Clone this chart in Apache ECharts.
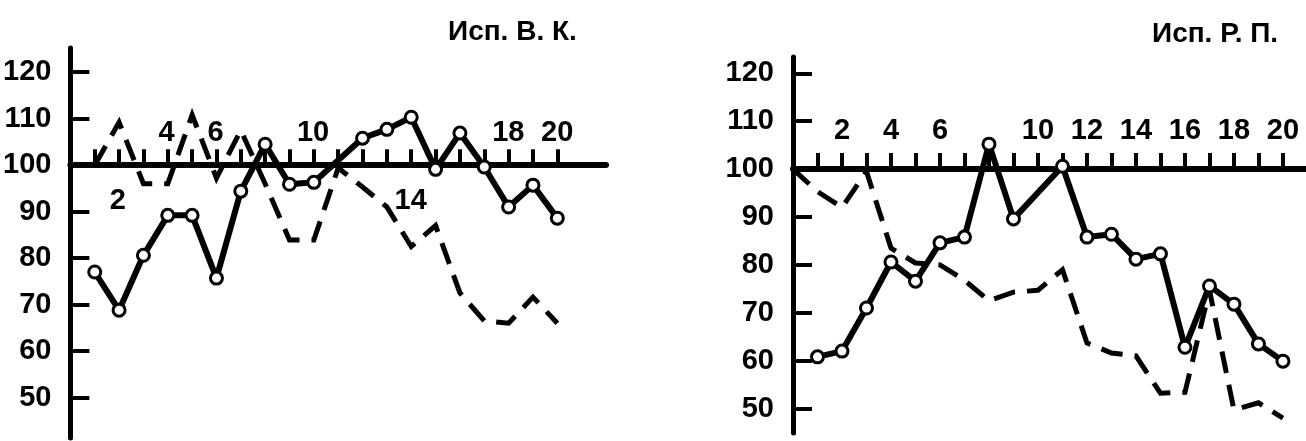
<!DOCTYPE html>
<html><head><meta charset="utf-8">
<script src="https://cdn.jsdelivr.net/npm/echarts@6/dist/echarts.min.js"></script>
<style>html,body{margin:0;padding:0;background:#fff}#c{width:1306px;height:441px}</style>
</head><body><div id="c"></div>
<script>
// Trial numbers (x) and test results (% of baseline, y)
const trials = [1,2,3,4,5,6,7,8,9,10,11,12,13,14,15,16,17,18,19,20];
const trialsFromZero = [0,1,2,3,4,5,6,7,8,9,10,11,12,13,14,15,16,17,18,19,20];

// Left panel: "Исп. В. К."
const vkSolid  = [77, 68.8, 80.6, 89.2, 89.2, 75.7, 94.4, 104.5, 95.9, 96.3, null, 105.8, 107.7, 110.3, 99.1, 106.9, 99.6, 91, 95.7, 88.6];
const vkDashed = [100, 109.2, 96, 96, 110.8, 97.2, 107.5, 96, 83.9, 83.9, 99.4, 95.3, 91, 82.5, 87, 72.5, 66.5, 66, 71.6, 66];

// Right panel: "Исп. Р. П."
const rpSolid  = [60.8, 62, 71, 80.6, 76.6, 84.6, 85.8, 105.2, 89.6, null, 100.6, 85.8, 86.4, 81.2, 82.3, 62.8, 75.6, 71.8, 63.5, 59.9];
const rpDashed = [100, 95.3, 92, 99.5, 83.5, 80.4, 80, 76.8, 72.5, 74.3, 74.7, 79, 63.7, 61.6, 61, 53.2, 53.4, 74.7, 49.7, 51.2, 48];

// Tick labels
const yTickValues = [50, 60, 70, 80, 90, 100, 110, 120];
const vkLabelsAbove = [4, 6, 10, 18, 20];
const vkLabelsBelow = [2, 14];
const rpLabelsAbove = [2, 4, 6, 10, 12, 14, 16, 18, 20];
const titles = ['Исп. В. К.', 'Исп. Р. П.'];

const BASE = 100; // horizontal axis crosses at 100
const FONT = 'Liberation Sans, Arial, sans-serif';

// panel layout (pixels) and axis ranges
const panels = [
  {left: 69,  top: 48, width: 537, height: 390, yMin: 41.3, yMax: 125.2, xMax: 22},
  {left: 793, top: 57, width: 512, height: 376, yMin: 44.9, yMax: 123.4, xMax: 20.9}
];
panels.forEach(p => { p.axisY = p.top + (p.yMax - BASE) / (p.yMax - p.yMin) * p.height; });

const chart = echarts.init(document.getElementById('c'), null, {renderer: 'canvas'});
const labelStyle = {color: '#000', fontSize: 29, fontWeight: 'bold', fontFamily: FONT};

function yAxisCfg(grid, p) {
  return {
    gridIndex: grid, type: 'value', min: p.yMin - BASE, max: p.yMax - BASE,
    axisLine: {show: true, onZero: false, lineStyle: {color: '#000', width: 5}},
    axisTick: {show: true, inside: true, length: 19, lineStyle: {color: '#000', width: 4},
      customValues: yTickValues.map(v => v - BASE)},
    axisLabel: Object.assign({show: true, margin: 19, customValues: yTickValues.map(v => v - BASE),
      formatter: v => String(Math.round(v + BASE))}, labelStyle),
    splitLine: {show: false}
  };
}
function xMain(grid, p, yIdx) {
  return {
    gridIndex: grid, type: 'value', min: 0, max: p.xMax, position: 'bottom',
    axisLine: {show: true, onZero: true, onZeroAxisIndex: yIdx, lineStyle: {color: '#000', width: 6}},
    axisTick: {show: true, inside: true, length: 16, lineStyle: {color: '#000', width: 4}, customValues: trials},
    axisLabel: {show: false},
    splitLine: {show: false}
  };
}
function xLabels(grid, p, position, values, margin) {
  return {
    gridIndex: grid, type: 'value', min: 0, max: p.xMax, position: position,
    axisLine: {show: false, onZero: false},
    axisTick: {show: false},
    axisLabel: Object.assign({show: values.length > 0, inside: true, margin: margin, customValues: values}, labelStyle),
    splitLine: {show: false}
  };
}
function pairs(xs, ys) {
  return xs.map((x, i) => [x, ys[i]]).filter(d => d[1] != null).map(d => [d[0], d[1] - BASE]);
}
function dashed(xi, yi, xs, ys) {
  return {type: 'line', xAxisIndex: xi, yAxisIndex: yi, data: pairs(xs, ys), symbol: 'none', z: 2,
    lineStyle: {color: '#000', width: 5, type: [22, 12], join: 'miter'}, silent: true};
}
function solid(xi, yi, xs, ys) {
  return {type: 'line', xAxisIndex: xi, yAxisIndex: yi, data: pairs(xs, ys), z: 3,
    symbol: 'circle', symbolSize: 12, showAllSymbol: true,
    itemStyle: {color: '#fff', borderColor: '#000', borderWidth: 3},
    lineStyle: {color: '#000', width: 6, join: 'round'}, silent: true};
}

const L = panels[0], R = panels[1];
chart.setOption({
  animation: false,
  backgroundColor: '#fff',
  title: [
    {text: titles[0], left: 443, top: 13, textStyle: {color: '#000', fontSize: 28, fontWeight: 'bold', fontFamily: FONT}},
    {text: titles[1], left: 1147, top: 15, textStyle: {color: '#000', fontSize: 28, fontWeight: 'bold', fontFamily: FONT}}
  ],
  grid: [
    {left: L.left, top: L.top, width: L.width, height: L.height},
    {left: R.left, top: R.top, width: R.width, height: R.height},
    // label strips: above / below the horizontal axis
    {left: L.left, top: L.top, width: L.width, height: L.axisY - L.top},
    {left: L.left, top: L.axisY, width: L.width, height: 100},
    {left: R.left, top: R.top, width: R.width, height: R.axisY - R.top}
  ],
  yAxis: [
    yAxisCfg(0, L), yAxisCfg(1, R),
    {gridIndex: 2, type: 'value', show: false}, {gridIndex: 3, type: 'value', show: false}, {gridIndex: 4, type: 'value', show: false}
  ],
  xAxis: [
    xMain(0, L, 0),
    xMain(1, R, 1),
    xLabels(2, L, 'bottom', vkLabelsAbove, 18),
    xLabels(3, L, 'top', vkLabelsBelow, 21),
    xLabels(4, R, 'bottom', rpLabelsAbove, 24)
  ],
  series: [
    dashed(0, 0, trials, vkDashed),
    solid(0, 0, trials, vkSolid),
    dashed(1, 1, trialsFromZero, rpDashed),
    solid(1, 1, trials, rpSolid)
  ]
});
</script></body></html>
